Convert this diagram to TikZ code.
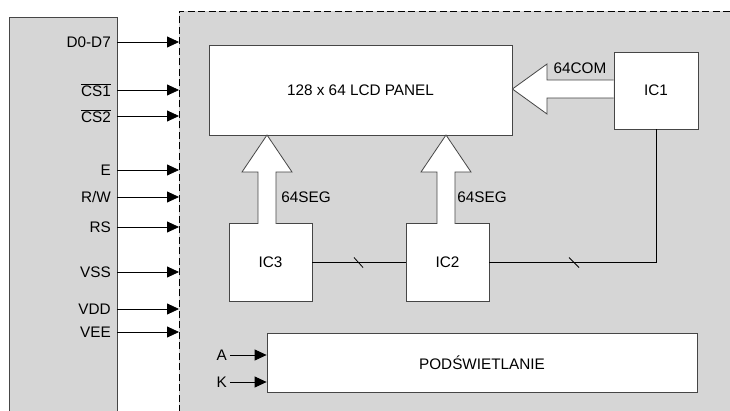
\documentclass[tikz,border=0pt]{standalone}
\usepackage{fontspec}
\setmainfont{Liberation Sans}
\usetikzlibrary{arrows.meta}
\definecolor{panelgray}{RGB}{214,214,214}
\definecolor{edgegray}{RGB}{70,70,70}
\begin{document}
\begin{tikzpicture}[x=1pt,y=-1pt,font=\fontsize{15.3}{17}\selectfont,
  box/.style={draw=edgegray,fill=white,line width=0.8pt,inner sep=0pt},
  sig/.style={line width=0.8pt,-{Triangle[length=12pt,width=11pt]}},
  lbl/.style={anchor=east,inner sep=0pt},
  hollow/.style={draw=edgegray,fill=white,line width=0.8pt,line join=miter},
  wire/.style={line width=0.8pt},
  dashline/.style={line width=0.8pt,dash pattern=on 7pt off 3.5pt}]
\useasboundingbox (0,0) rectangle (730,411);
% backgrounds
\fill[panelgray] (179,11) rectangle (730,412);
\draw[dashline] (179,412) -- (179,11) -- (731,11);
\filldraw[fill=panelgray,draw=edgegray,line width=0.8pt] (9,413) -- (9,17) -- (117,17) -- (117,413);
% left signals
\foreach \nm/\txt/\yy in {d/D0-D7/42, csa/{$\overline{\mbox{CS1}}$}/90, csb/{$\overline{\mbox{CS2}}$}/116, e/E/170, rw/R\slash W/197, rs/RS/227, vss/VSS/272, vdd/VDD/309, vee/VEE/332}{
  \node[lbl] (l\nm) at (111,\yy) {\txt};
  \coordinate (s\nm) at (117,\yy);
  \coordinate (t\nm) at (179,\yy);
  \draw[sig] (s\nm) -- (t\nm);
}
% blocks
\node[box,minimum width=303,minimum height=90] (lcd) at (360.5,90) {128 x 64 LCD PANEL};
\node[box,minimum width=84,minimum height=77] (ic1) at (656,90.5) {IC1};
\node[box,minimum width=83,minimum height=78] (ic3) at (270.5,262.5) {IC3};
\node[box,minimum width=83,minimum height=78] (ic2) at (447.5,262.5) {IC2};
\node[box,minimum width=430,minimum height=59] (pod) at (482,362.5) {PODŚWIETLANIE};
% hollow bus arrows
\draw[hollow] (ic1.west |- 0,80) -- (547,80) -- (547,64) -- (lcd.east |- 0,89) -- (547,114) -- (547,98) -- (ic1.west |- 0,98);
\draw[hollow] (258,224) -- (258,172) -- (242,172) -- (267,135) -- (292,172) -- (276,172) -- (276,224);
\draw[hollow] (437,224) -- (437,172) -- (421,172) -- (446,135) -- (471,172) -- (455,172) -- (455,224);
\node[anchor=center] (com) at (580,68) {64COM};
\node (sega) at (306,197) {64SEG};
\node (segb) at (482,197) {64SEG};
% wires
\draw[wire] (ic3.east) -- (ic2.west);
\draw[wire] (ic2.east) -| (ic1.south);
\draw[wire] (354,257.5) -- (363,267.5);
\draw[wire] (569,257.5) -- (579,267.5);
% backlight inputs
\node[lbl] (la) at (227,355) {A};
\node[lbl] (lk) at (227,382) {K};
\coordinate (sa) at (230,355);
\coordinate (sk) at (230,382);
\draw[sig] (sa) -- (pod.west |- sa);
\draw[sig] (sk) -- (pod.west |- sk);
\end{tikzpicture}
\end{document}
